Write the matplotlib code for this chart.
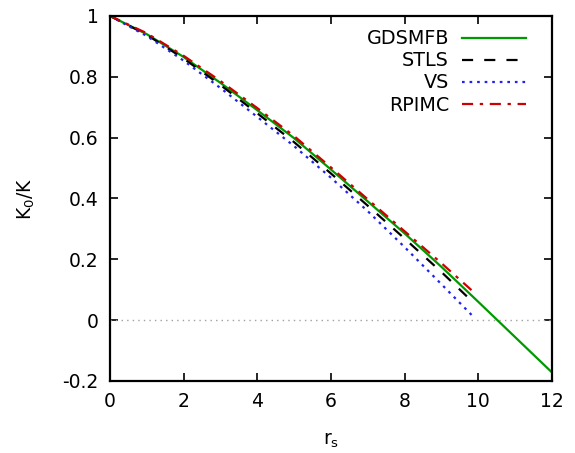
import matplotlib
matplotlib.use('Agg')
import matplotlib.pyplot as plt
import numpy as np

plt.rcParams['font.family'] = 'DejaVu Sans'
plt.rcParams['mathtext.default'] = 'regular'

# values
rs_gd = [0, 1, 2, 3, 4, 5, 6, 7, 8, 9, 10, 10.5, 11, 12]
k_gd = [1.0, 0.94, 0.865, 0.78, 0.69, 0.598, 0.495, 0.39, 0.285, 0.175, 0.06, 0.002, -0.056, -0.172]

rs_stls = [0, 1, 2, 3, 4, 5, 6, 7, 8, 9, 9.88]
k_stls = [1.0, 0.938, 0.86, 0.773, 0.68, 0.585, 0.482, 0.376, 0.268, 0.158, 0.056]

rs_vs = [0, 1, 2, 3, 4, 5, 6, 7, 8, 9, 9.9]
k_vs = [1.0, 0.934, 0.853, 0.763, 0.668, 0.572, 0.468, 0.358, 0.24, 0.118, 0.007]

rs_pimc = [0, 1, 2, 3, 4, 5, 6, 7, 8, 9, 9.94]
k_pimc = [1.0, 0.943, 0.869, 0.786, 0.697, 0.605, 0.502, 0.397, 0.292, 0.187, 0.085]

fig = plt.figure(figsize=(5.75, 4.53), dpi=100)
ax = fig.add_axes([0.191, 0.159, 0.769, 0.806])

ax.axhline(0, color='#a0a0a0', lw=1.0, ls=(0, (1, 3)))
ax.plot(rs_gd, k_gd, color='#009900', lw=1.6, label='GDSMFB')
ax.plot(rs_stls, k_stls, color='black', lw=1.6, ls=(0, (5, 5)), label='STLS')
ax.plot(rs_vs, k_vs, color='#2222ee', lw=1.6, ls=(0, (1.2, 2.2)), label='VS')
ax.plot(rs_pimc, k_pimc, color='#cc0000', lw=1.6, ls=(0, (5, 3, 1.5, 3)), label='RPIMC')

ax.set_xlim(0, 12)
ax.set_ylim(-0.2, 1)
ax.set_xticks(np.arange(0, 13, 2))
ax.set_yticks([-0.2, 0, 0.2, 0.4, 0.6, 0.8, 1])
ax.set_yticklabels(['-0.2', '0', '0.2', '0.4', '0.6', '0.8', '1'])
ax.tick_params(direction='in', length=6, width=1.2, top=True, right=True,
               labelsize=13.5, pad=8)
for s in ax.spines.values():
    s.set_linewidth(1.6)

ax.set_xlabel('r$_s$', fontsize=13.5, labelpad=14)
ax.set_ylabel('K$_0$/K', fontsize=13.5, labelpad=18)

ax.legend(loc='upper right', frameon=False, markerfirst=False, fontsize=13.8,
          handlelength=3.3, handletextpad=0.7, labelspacing=0.16,
          borderaxespad=0.4, bbox_to_anchor=(0.975, 1.005))

fig.savefig('out.png', dpi=100)
